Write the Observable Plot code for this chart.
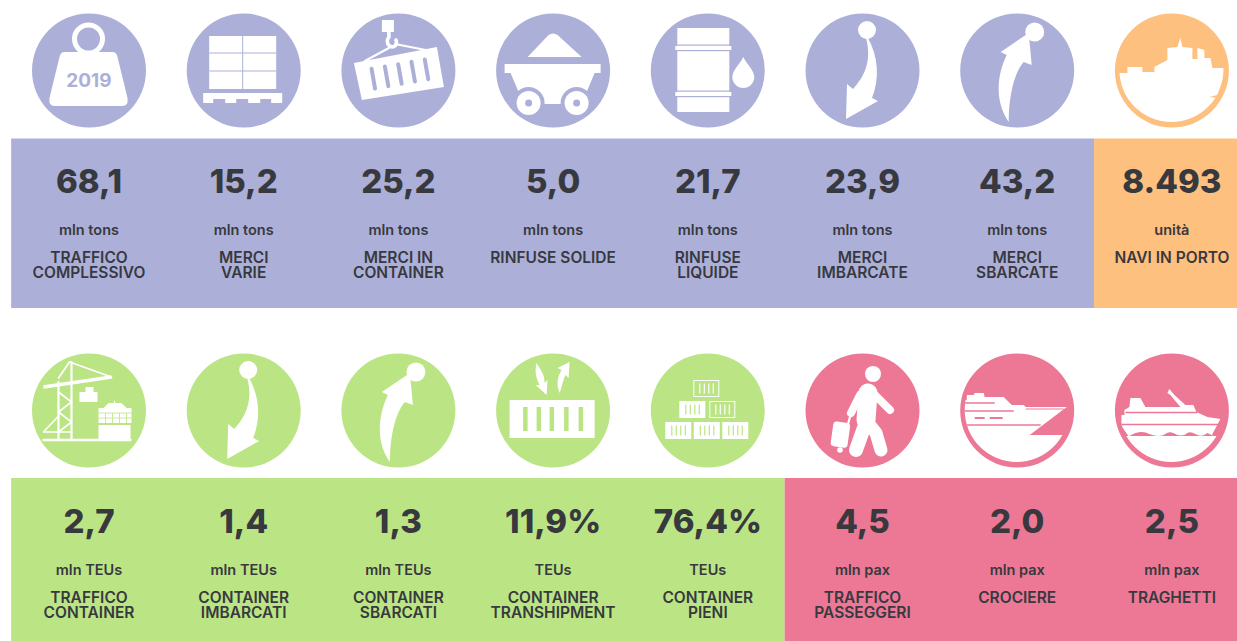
<!DOCTYPE html>
<html>
<head>
<meta charset="utf-8">
<style>html,body{margin:0;padding:0;background:#fff;overflow:hidden}svg{display:block}</style>
<script src="https://cdn.jsdelivr.net/npm/d3@7"></script>
<script src="https://cdn.jsdelivr.net/npm/@observablehq/plot@0.6"></script>
</head>
<body>
<div id="chart"></div>
<script>
const lavender = "#ACB0D9", orange = "#FDC07F", green = "#BBE584", pink = "#EC7896", ink = "#38393E";

// --- values
const topValues = ["68,1","15,2","25,2","5,0","21,7","23,9","43,2","8.493"];
const topUnits = ["mln tons","mln tons","mln tons","mln tons","mln tons","mln tons","mln tons","unità"];
const topLabels = ["TRAFFICO\nCOMPLESSIVO","MERCI\nVARIE","MERCI IN\nCONTAINER","RINFUSE SOLIDE","RINFUSE\nLIQUIDE","MERCI\nIMBARCATE","MERCI\nSBARCATE","NAVI IN PORTO"];
const topIcons = ["weight","pallet","crane","cart","barrel","down","up","port"];
const topColors = [lavender,lavender,lavender,lavender,lavender,lavender,lavender,orange];

const bottomValues = ["2,7","1,4","1,3","11,9%","76,4%","4,5","2,0","2,5"];
const bottomUnits = ["mln TEUs","mln TEUs","mln TEUs","TEUs","TEUs","mln pax","mln pax","mln pax"];
const bottomLabels = ["TRAFFICO\nCONTAINER","CONTAINER\nIMBARCATI","CONTAINER\nSBARCATI","CONTAINER\nTRANSHIPMENT","CONTAINER\nPIENI","TRAFFICO\nPASSEGGERI","CROCIERE","TRAGHETTI"];
const bottomIcons = ["terminal","down","up","tranship","stack","person","cruise","ferry"];
const bottomColors = [green,green,green,green,green,pink,pink,pink];

const iconYear = "2019";

// --- icon glyphs, in units around each circle's centre; W = white, C = the circle's colour
const W = 'fill="#fff"', C = 'fill="currentColor"';
const line = (d, w, col = "#fff", cap = "round") => `<path d="${d}" fill="none" stroke="${col}" stroke-width="${w}" stroke-linecap="${cap}" stroke-linejoin="round"/>`;
const boxSlots = (x, y, col) => [6.5, 11, 15.5, 20].map(v => `<rect x="${x + v - .6}" y="${y + 3.5}" width="1.2" height="10" fill="${col}"/>`).join("");
const solidBox = (x, y) => `<rect x="${x}" y="${y}" width="26" height="17" ${W}/>` + boxSlots(x, y, "currentColor");
const hollowBox = (x, y) => `<rect x="${x + .5}" y="${y + .5}" width="25" height="16" fill="none" stroke="#fff" stroke-width="1"/>` + boxSlots(x, y, "#fff");

const downArrow = `<circle cx="5" cy="-40" r="9" ${W}/><path d="M6,-32 C16,-14 18,8 10,28 L16,31 L-16,49 L-15,14 L-9,19 C3,6 10,-10 4,-32Z" ${W}/>`;
const upArrow = `<circle cx="18" cy="-38" r="9.5" ${W}/><path d="M-8,52 C-20,35 -22,10 -10,-15 L-16,-18 L12,-37 L15,-5 L7,-8 C-2,2 -8,25 -8,52Z" ${W}/>`;

const glyphs = {
  weight: `<circle cx="0" cy="-31" r="14" fill="none" stroke="#fff" stroke-width="5"/>
    <path d="M-24,-18 L24,-18 Q28,-18 29,-13 L39,28 Q40,36 34,36 L-34,36 Q-40,36 -39,28 L-29,-13 Q-28,-18 -24,-18Z" ${W}/>`,
  pallet: `<rect x="-34" y="-34" width="67" height="53" ${W}/>
    ${line("M-.5,-34V19", 1, "currentColor", "butt")}${line("M-34,-17H33M-34,1H33", 1, "currentColor", "butt")}
    <path d="M-40,23H39V33H28V29H17V33H5V29H-7V33H-18V29H-30V33H-40Z" ${W}/>`,
  crane: `<rect x="-16" y="-50" width="12" height="12" ${W}/>
    ${line("M-9,-38V-33C-13,-27 -8,-21 -3,-24C-1,-25 -1,-28 -2,-30", 3.6)}
    ${line("M-9,-22L-33,-9M-3,-26L33,-19", 2.2)}
    <path d="M-44,-7L39,-23L46,17L-36,30Z" ${W}/>
    <g transform="rotate(-10 2 4)">${[-27,-13.5,0,13.5,27].map(x => line(`M${2+x},-6V14`, 4, "currentColor")).join("")}</g>`,
  cart: `<path d="M-25,-13 L-4,-35 Q0,-38 5,-35 L29,-13Z" ${W}/>
    <path d="M-48,-6H48V3H42L34,22L8,34H-8L-34,22L-42,3H-48Z" ${W}/>
    <circle cx="-24" cy="33" r="16" ${C}/><circle cx="24" cy="33" r="16" ${C}/>
    <circle cx="-24" cy="33" r="12" ${W}/><circle cx="24" cy="33" r="12" ${W}/>
    <circle cx="-24" cy="33" r="3.5" ${C}/><circle cx="24" cy="33" r="3.5" ${C}/>`,
  barrel: `<rect x="-30" y="-42" width="52" height="84" ${W}/>
    <rect x="-32" y="-24" width="56" height="4" ${W}/><rect x="-32" y="22" width="56" height="4" ${W}/>
    <rect x="-32" y="-25.5" width="56" height="1.2" ${C}/><rect x="-32" y="-20" width="56" height="1.2" ${C}/>
    <rect x="-32" y="20.5" width="56" height="1.2" ${C}/><rect x="-32" y="26" width="56" height="1.2" ${C}/>
    <path d="M36,-13 C39,-6 47,0 47,7 A11,11 0 0 1 25,7 C25,0 33,-6 36,-13Z" ${W}/>`,
  down: downArrow,
  up: upArrow,
  port: `<g clip-path="url(#disc)"><path d="M-56,3H-44V-3H-29V2H-17V-3L-4,-10V-22L6,-23L9,-32L11,-23L21,-22V-11H26V-22L33,-20V-12H39L41,-2H56L46,25L38,27L46,28L56,62H-56Z" ${W}/></g>`,
  terminal: `${line("M-45,-23L23,-33", 3.6, "#fff", "butt")}
    ${line("M-19,-48L23,-33M-19,-48L-30,-32", 1.8)}
    ${line("M-30,-28V30M-17,-48V30", 2.2)}
    ${line("M-30,-18L-17,-8L-30,2L-17,12L-30,22H-45L-30,6M-17,22H-30", 1.6)}
    ${line("M-45,30H42", 2.4)}
    <rect x="-3" y="-23" width="8" height="6" ${W}/><rect x="-9" y="-18" width="18" height="10" ${W}/>
    <rect x="10" y="-2" width="33" height="15" ${W}/><rect x="10" y="15" width="32" height="15" ${W}/>
    <path d="M15,-2L20,-7H25L26,-10L27,-7H33L38,-2Z" ${W}/>
    ${line("M10,3H43M10,8H43M17,3V13M24,3V13M31,3V13M38,3V13", .8, "currentColor", "butt")}`,
  tranship: `<rect x="-43" y="-10" width="85" height="38" ${W}/>
    ${[-29.5,-16,-3,11.5,26].map(x => `<rect x="${x}" y="-3" width="4.5" height="24" ${C}/>`).join("")}
    <path d="M-16,-47 C-12,-40 -8,-36 -8,-27 L-5,-30 L-6,-15 L-17,-25 L-13,-25 C-17,-32 -18,-40 -16,-47Z" ${W}/>
    <path d="M7,-17 C10,-25 11,-32 13,-35 L16,-32 L17,-48 L5,-42 L9,-40 C4,-32 4,-24 7,-17Z" ${W}/>`,
  stack: hollowBox(-14,-30) + solidBox(-28,-9) + hollowBox(2,-9) + solidBox(-42,12) + solidBox(-13.5,12) + solidBox(15,12),
  person: `<circle cx="11" cy="-36" r="8" ${W}/>
    ${line("M6,-17L4,10", 19)}${line("M4,12L-6,40", 14)}${line("M6,13L14,23L19,40", 13)}
    ${line("M13,-15L28,0", 8)}${line("M-2,-15L-11,3", 8)}${line("M-11,3L-15,18", 2.2)}
    <rect x="-30" y="12" width="17" height="25" rx="3.5" transform="rotate(8 -22 24)" ${W}/>
    <circle cx="-22" cy="40" r="2.8" ${W}/>`,
  cruise: `<g clip-path="url(#disc)"><path d="M-58,-10H-50V-15H-43L-42,-17H-33L-32,-13H-13L-5,-5H7L9,-3H50L13,25H58V62H-58Z" ${W}/>
    ${line("M-52,-7H-22M-52,1H-3", 1.6, "currentColor", "butt")}
    ${line("M-42,8H-32M-27,8H-14", 1.8, "currentColor", "butt")}
    ${line("M9,-1H47", 1.1, "currentColor", "butt")}
    ${line("M-56,15H24", 1.6, "currentColor", "butt")}</g>`,
  ferry: `<g clip-path="url(#disc)"><path d="M-47,0L-42,-3L-41,-12H-31L-26,-3H9L-1,-15L-4,-17L-2,-21L3,-15L14,-5H22L25,2L36,7L49,9L41,24V26H58V62H-58V26H-43L-50,16V5H-47Z" ${W}/>
    ${line("M-46,2.5H26", 1.3, "currentColor", "butt")}
    ${line("M-56,14.5H50", 1.4, "currentColor", "butt")}
    <path d="M-42,26 Q-31,19 -22,24 Q-12,28 -6,24 Q-3,21 2,23 Q10,28 16,23 Q19,21 24,24 Q30,28 36,23 L42,26Z" ${C}/></g>`
};

// --- table built from the arrays
const rows = [
  {offset: 0, values: topValues, units: topUnits, labels: topLabels, icons: topIcons, colors: topColors},
  {offset: 340, values: bottomValues, units: bottomUnits, labels: bottomLabels, icons: bottomIcons, colors: bottomColors}
];
const cells = rows.flatMap(r => r.values.map((value, col) => ({
  col, offset: r.offset, value, unit: r.units[col], label: r.labels[col], icon: r.icons[col], color: r.colors[col]
})));

const panels = [
  {from: -0.5, to: 6.5, top: 138.5, bottom: 308, color: lavender},
  {from: 6.5, to: 7.43, top: 138.5, bottom: 308, color: orange},
  {from: -0.5, to: 4.5, top: 478, bottom: 641, color: green},
  {from: 4.5, to: 7.43, top: 478, bottom: 641, color: pink}
];

const font = "Inter, 'Noto Sans', sans-serif";

function iconMark(index, scales) {
  const root = document.createElementNS("http://www.w3.org/2000/svg", "g");
  root.innerHTML = `<clipPath id="disc"><circle r="52"/></clipPath>` + cells.map(d =>
    `<g transform="translate(${scales.x(d.col)},${scales.y(70 + d.offset)})" style="color:${d.color}">${glyphs[d.icon]}</g>`
  ).join("");
  return root;
}

const plot = Plot.plot({
  width: 1237, height: 641,
  margin: 0,
  x: {domain: [-88.5 / 154.7, (1237 - 88.5) / 154.7], range: [0, 1237], axis: null},
  y: {domain: [0, 641], range: [0, 641], axis: null},
  color: {type: "identity"},
  style: {background: "#fff"},
  marks: [
    Plot.rect(panels, {x1: "from", x2: "to", y1: "top", y2: "bottom", fill: "color"}),
    Plot.dot(cells, {x: "col", y: d => 70 + d.offset, r: 57, fill: "color", stroke: null}),
    iconMark,
    Plot.text([iconYear], {x: 0, y: 80, text: d => d, fill: lavender, fontFamily: font, fontWeight: 700, fontSize: 19}),
    Plot.text(cells, {x: "col", y: d => 182 + d.offset, text: "value", fill: ink, fontFamily: font, fontWeight: 800, fontSize: 33}),
    Plot.text(cells, {x: "col", y: d => 230 + d.offset, text: "unit", fill: ink, fontFamily: font, fontWeight: 600, fontSize: 14.5}),
    Plot.text(cells, {x: "col", y: d => 251.5 + d.offset, text: "label", lineAnchor: "top", lineHeight: 0.97, fill: ink, fontFamily: font, fontWeight: 600, fontSize: 15.5})
  ]
});
document.getElementById("chart").append(plot);
</script>
</body>
</html>
